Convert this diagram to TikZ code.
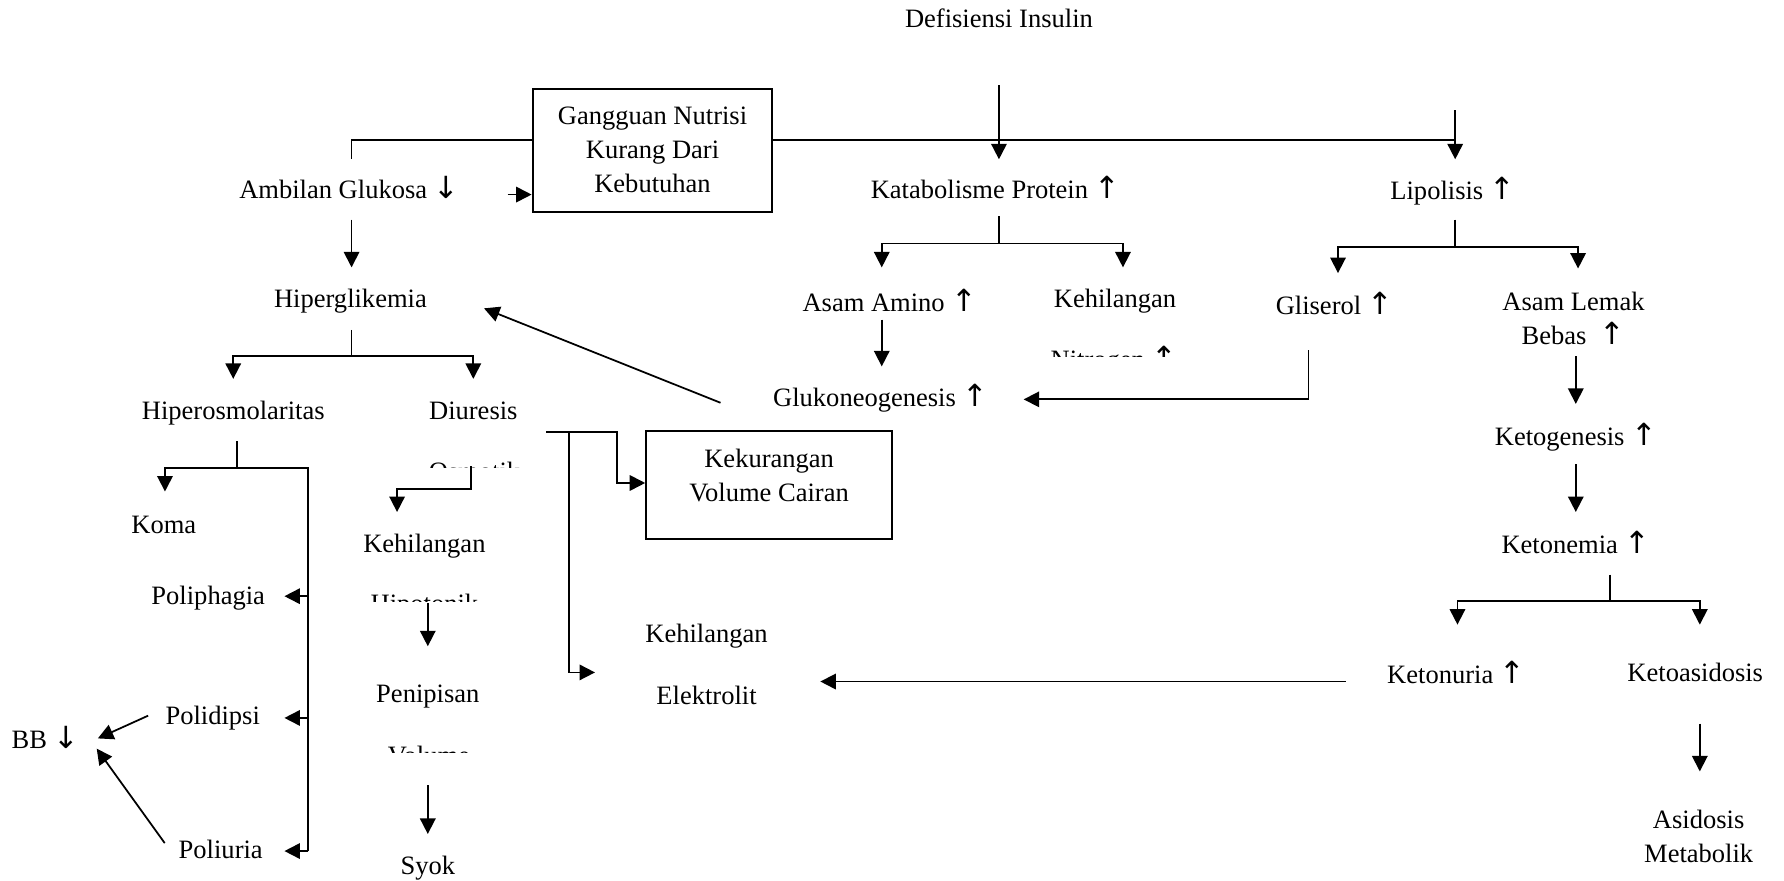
\documentclass[tikz,border=0pt]{standalone}
\usepackage{fontspec}
\setmainfont{Liberation Serif}
\newfontfamily\arrowfont{DejaVu Sans}
\usetikzlibrary{arrows.meta, calc}
\newcommand{\naik}{{\arrowfont\scalebox{1.15}{↑}}}
\newcommand{\turun}{{\arrowfont\scalebox{1.15}{↓}}}
\tikzset{
    txt/.style={
        font=\fontsize{15.1}{19.4}\selectfont,
        inner sep=0pt,
        align=center
    },
    box/.style={
        draw,
        line width=1.1pt,
        font=\fontsize{15.1}{19.4}\selectfont,
        align=center,
        inner sep=0pt
    },
    arrow/.style={
        -{Triangle[length=0.31cm,width=0.31cm]},
        line width=1pt
    },
    link/.style={
        line width=1pt
    }
}
\begin{document}
\begin{tikzpicture}[x=0.02276cm, y=-0.02276cm]
    \useasboundingbox (0,0) rectangle (1568,774);

    % Top row
    \node[txt] (defisiensi) at (878,16) {Defisiensi Insulin};
    \node[box, minimum width=4.80cm, minimum height=2.46cm] (gangguan) at (573.5,132) {Gangguan Nutrisi\\Kurang Dari\\Kebutuhan};
    \node[txt] (ambilan) at (307,165) {Ambilan Glukosa \turun};
    \node[txt] (katabolisme) at (875,165) {Katabolisme Protein \naik};
    \node[txt] (lipolisis) at (1277,168) {Lipolisis \naik};

    % Second row
    \node[txt] (hiperglikemia) at (308,265) {Hiperglikemia};
    \node[txt] (asamamino) at (782,264) {Asam Amino \naik};
    \node[txt] (nitrogen) at (980,265) {Kehilangan};
    \begin{scope}
        \clip (900,290) rectangle (1060,313);
        \node[txt, anchor=base] (nitrogenb) at (979,324) {Nitrogen \naik};
    \end{scope}
    \node[txt] (gliserol) at (1173,267) {Gliserol \naik};
    \node[txt] (asamlemak) at (1383,280) {Asam Lemak\\Bebas \ \naik};
    \node[txt] (glukoneo) at (774,350) {Glukoneogenesis \naik};

    % Left branch
    \node[txt] (hiperosmo) at (205,363) {Hiperosmolaritas};
    \node[txt] (diuresis) at (416,361) {Diuresis};
    \begin{scope}
        \clip (360,395) rectangle (470,411);
        \node[txt, anchor=base] (osmotik) at (417,422) {Osmotik};
    \end{scope}
    \node[txt] (koma) at (144,461) {Koma};
    \node[txt] (hipotonik) at (373,480) {Kehilangan};
    \begin{scope}
        \clip (310,505) rectangle (440,529);
        \node[txt, anchor=base] (hipotonikb) at (373,538) {Hipotonik};
    \end{scope}
    \node[txt] (poliphagia) at (183,526) {Poliphagia};
    \node[txt] (penipisan) at (376,612) {Penipisan};
    \begin{scope}
        \clip (320,640) rectangle (430,661.5);
        \node[txt, anchor=base] (volume) at (377,672) {Volume};
    \end{scope}
    \node[txt] (polidipsi) at (187,631) {Polidipsi};
    \node[txt] (bb) at (40,648) {BB \turun};
    \node[txt] (poliuria) at (194,747) {Poliuria};
    \node[txt] (syok) at (376,763) {Syok};

    % Middle
    \node[box, minimum width=4.92cm, minimum height=2.16cm] (kekurangan) at (676,426.5) {};
    \node[txt] (kekurangantxt) at (676,418) {Kekurangan\\Volume Cairan};
    \node[txt] (elektrolit) at (621,584) {Kehilangan\\[0.55cm]Elektrolit};

    % Right branch
    \node[txt] (ketogenesis) at (1385,384) {Ketogenesis \naik};
    \node[txt] (ketonemia) at (1385,477) {Ketonemia \naik};
    \node[txt] (ketonuria) at (1280,591) {Ketonuria \naik};
    \node[txt] (ketoasidosis) at (1490,591) {Ketoasidosis};
    \node[txt] (asidosis) at (1493,735) {Asidosis\\Metabolik};

    % Connectors, top
    \draw[link] ($(gangguan.west)+(0,-9)$) -| ($(ambilan)+(2,-25)$);
    \draw[arrow] ($(gangguan.east)+(0,-9)$) -| ($(lipolisis)+(2,-28)$);
    \draw[link] ($(lipolisis)+(2,-71)$) -- ($(lipolisis)+(2,-45)$);
    \draw[arrow] ($(defisiensi)+(0,59)$) -- ($(katabolisme)+(3,-25)$);
    \draw[arrow] ($(ambilan)+(2,28)$) -- ($(hiperglikemia)+(1,-30)$);
    \draw[arrow] ($(gangguan.west)+(-21,39)$) -- ($(gangguan.west)+(0,39)$);

    % Connectors, Hiperglikemia
    \draw[link] ($(hiperglikemia)+(1,25)$) -- ($(hiperglikemia)+(1,48)$) coordinate (hgfork);
    \draw[arrow] (hgfork) -| ($(hiperosmo)+(0,-30)$);
    \draw[arrow] (hgfork) -| ($(diuresis)+(0,-28)$);
    \draw[arrow] ($(glukoneo.west)+(-46,4)$) -- ($(hiperglikemia.east)+(50,6)$);

    % Connectors, protein
    \draw[link] ($(katabolisme)+(3,25)$) -- ($(katabolisme)+(3,49)$) coordinate (kpfork);
    \draw[arrow] (kpfork) -| ($(asamamino)+(-7,-29)$);
    \draw[arrow] (kpfork) -| ($(nitrogen)+(7,-30)$);
    \draw[arrow] ($(asamamino)+(-7,17)$) -- ($(glukoneo)+(1,-28)$);

    % Connectors, lipolisis
    \draw[link] ($(lipolisis)+(2,25)$) -- ($(lipolisis)+(2,49)$) coordinate (lpfork);
    \draw[arrow] (lpfork) -| ($(gliserol)+(3,-27)$);
    \draw[arrow] (lpfork) -| ($(asamlemak)+(4,-44)$);
    \draw[arrow] ($(gliserol)+(-23,41)$) |- ($(glukoneo.east)+(31,1)$);
    \draw[arrow] ($(asamlemak)+(2,33)$) -- ($(ketogenesis)+(0,-29)$);
    \draw[arrow] ($(ketogenesis)+(0,24)$) -- ($(ketonemia)+(0,-27)$);

    % Connectors, ketonemia
    \draw[link] ($(ketonemia)+(30,28)$) -- ($(ketonemia)+(30,51)$) coordinate (knfork);
    \draw[arrow] (knfork) -| ($(ketonuria)+(1,-42)$);
    \draw[arrow] (knfork) -| ($(ketoasidosis)+(4,-42)$);
    \draw[arrow] ($(ketonuria.west)+(-36,8)$) -- ($(elektrolit.east)+(46,15)$);
    \draw[arrow] ($(ketoasidosis)+(4,45)$) -- ($(asidosis)+(1,-57)$);

    % Connectors, hiperosmolaritas
    \draw[link] ($(hiperosmo)+(3,25)$) -- ($(hiperosmo)+(3,48)$) coordinate (hofork);
    \coordinate (hobar) at ($(poliuria)+(77,1)$);
    \draw[arrow] (hofork) -| ($(koma)+(1,-29)$);
    \draw[link] (hofork) -| (hobar);
    \draw[arrow] ($(hobar |- poliphagia)+(0,-2)$) -- ++(-21,0);
    \draw[arrow] (hobar |- polidipsi) -- ++(-21,0);
    \draw[arrow] (hobar) -- ++(-21,0);
    \draw[arrow] ($(polidipsi.west)+(-15,-2)$) -- ($(bb.east)+(16,1)$);
    \draw[arrow] ($(poliuria.west)+(-12,-6)$) -- ($(bb.east)+(15,10)$);

    % Connectors, diuresis
    \draw[arrow] ($(diuresis)+(-2,49)$) -- ++(0,20) -| ($(hipotonik)+(-24,-30)$);
    \draw[arrow] ($(diuresis)+(64,19)$) -| ($(kekurangan.west)+(-25,-2)$) -- ($(kekurangan.west)+(0,-2)$);
    \draw[arrow] ($(diuresis)+(84,19)$) |- ($(elektrolit.west)+(-44,7)$);
    \draw[arrow] ($(hipotonik)+(3,50)$) -- ($(penipisan)+(0,-44)$);
    \draw[arrow] ($(penipisan)+(0,78)$) -- ($(syok)+(0,-30)$);
\end{tikzpicture}
\end{document}
